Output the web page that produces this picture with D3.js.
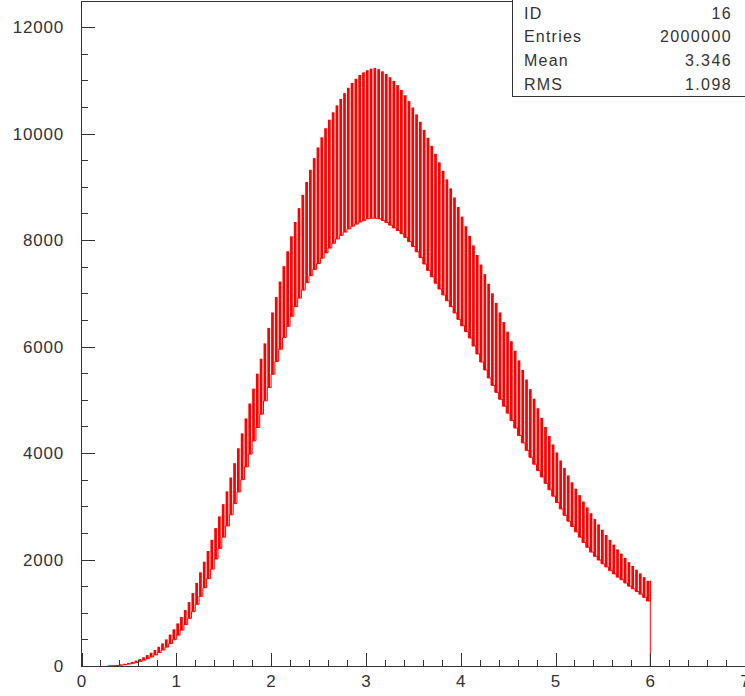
<!DOCTYPE html>
<html>
<head>
<meta charset="utf-8">
<script src="https://cdn.jsdelivr.net/npm/d3@7/dist/d3.min.js"></script>
<style>
  body { margin: 0; background: #fff; }
  svg { display: block; }
  text { font-family: "Liberation Sans", Arial, sans-serif; fill: #333; }
</style>
</head>
<body>
<div id="chart"></div>
<script>
// histogram binning (x units)
var binStart = 0.28;
var binWidth = 0.04;

// tooth tops of the comb, one per bin (entries)
var peakCounts = [
  5, 10, 18, 28, 42, 58, 78, 102, 130, 165,
  205, 250, 300, 360, 425, 500, 590, 690, 800, 920,
  1050, 1200, 1370, 1560, 1760, 1960, 2160, 2370, 2590, 2810,
  3040, 3280, 3540, 3810, 4090, 4370, 4650, 4930, 5210, 5490,
  5770, 6060, 6350, 6640, 6930, 7220, 7510, 7790, 8070, 8340,
  8600, 8850, 9090, 9320, 9540, 9740, 9930, 10100, 10260, 10400,
  10530, 10650, 10760, 10860, 10950, 11030, 11100, 11150, 11190, 11220,
  11230, 11210, 11170, 11120, 11060, 10990, 10910, 10820, 10720, 10610,
  10490, 10360, 10220, 10070, 9920, 9770, 9620, 9460, 9300, 9140,
  8970, 8800, 8620, 8440, 8260, 8080, 7900, 7720, 7540, 7360,
  7180, 7000, 6820, 6640, 6460, 6280, 6100, 5920, 5740, 5560,
  5380, 5200, 5020, 4840, 4660, 4490, 4320, 4160, 4010, 3860,
  3720, 3580, 3450, 3330, 3210, 3090, 2980, 2870, 2760, 2660,
  2560, 2460, 2370, 2280, 2190, 2110, 2030, 1950, 1880, 1810,
  1740, 1670, 1600
];

// bottom of the comb, one per bin (entries)
var baseCounts = [
  2, 5, 10, 16, 25, 36, 50, 66, 86, 110,
  138, 170, 208, 252, 300, 355, 420, 495, 580, 675,
  780, 895, 1020, 1160, 1310, 1470, 1640, 1820, 2010, 2210,
  2420, 2630, 2840, 3050, 3270, 3500, 3740, 3980, 4230, 4480,
  4730, 4980, 5230, 5480, 5720, 5950, 6170, 6380, 6570, 6750,
  6910, 7060, 7200, 7330, 7450, 7560, 7660, 7760, 7850, 7940,
  8020, 8090, 8150, 8210, 8260, 8300, 8340, 8370, 8400, 8410,
  8410, 8400, 8370, 8330, 8280, 8230, 8180, 8120, 8050, 7970,
  7880, 7780, 7670, 7550, 7430, 7310, 7190, 7080, 6970, 6860,
  6750, 6630, 6510, 6390, 6280, 6160, 6010, 5860, 5710, 5560,
  5410, 5270, 5140, 5010, 4880, 4750, 4610, 4470, 4330, 4190,
  4050, 3920, 3790, 3670, 3550, 3430, 3310, 3190, 3070, 2950,
  2830, 2720, 2620, 2520, 2420, 2320, 2230, 2140, 2060, 1990,
  1920, 1860, 1790, 1730, 1670, 1620, 1560, 1500, 1450, 1400,
  1350, 1290, 1220
];

var xTickValues = [0, 1, 2, 3, 4, 5, 6, 7];
var yTickValues = [0, 2000, 4000, 6000, 8000, 10000, 12000];

var statLabels = ["ID", "Entries", "Mean", "RMS"];
var statValues = ["16", "2000000", "3.346", "1.098"];

var W = 745, H = 696;
var axisColor = "#333";

var svg = d3.select("#chart").append("svg")
            .attr("width", W)
            .attr("height", H);

var x = d3.scaleLinear().domain([0, 7]).range([81.5, 745.1]);
var y = d3.scaleLinear().domain([0, 12490]).range([666, 1]);

var bins = peakCounts.map(function(p, i){
  return {x0: binStart + i * binWidth, x1: binStart + (i + 1) * binWidth, hi: p, lo: baseCounts[i]};
});

// frame top line
svg.append("line")
   .attr("x1", x(0)).attr("x2", W)
   .attr("y1", 1.5).attr("y2", 1.5)
   .attr("stroke", axisColor);

// comb teeth
svg.append("g").selectAll("rect")
   .data(bins)
   .enter()
   .append("rect")
   .attr("x", function(d){ return x(d.x0); })
   .attr("width", function(d){ return x(d.x0 + binWidth * 0.72) - x(d.x0); })
   .attr("y", function(d){ return y(d.hi); })
   .attr("height", function(d){ return y(d.lo) - y(d.hi); })
   .style("fill", "#ff0000");

// lower step line
var pathData = "M" + x(binStart) + "," + y(0);
bins.forEach(function(d){
  pathData += "L" + x(d.x0) + "," + y(d.lo) + "L" + x(d.x1) + "," + y(d.lo);
});
var last = bins[bins.length - 1];
pathData += "L" + x(last.x1) + "," + y(last.hi) + "L" + x(last.x1) + "," + y(0);

svg.append("path")
   .attr("d", pathData)
   .attr("fill", "none")
   .attr("stroke", "#ff0000")
   .attr("stroke-width", 1);

// x axis
var xAxisG = svg.append("g");
xAxisG.append("line")
      .attr("x1", x(0)).attr("x2", W)
      .attr("y1", 666.5).attr("y2", 666.5)
      .attr("stroke", axisColor);
xAxisG.selectAll("line.minor")
      .data(d3.range(0, 35).map(function(i){ return i * 0.2; }))
      .enter().append("line")
      .attr("class", "minor")
      .attr("x1", function(d){ return Math.round(x(d)) + 0.5; })
      .attr("x2", function(d){ return Math.round(x(d)) + 0.5; })
      .attr("y1", 666).attr("y2", 660)
      .attr("stroke", axisColor);
xAxisG.selectAll("line.major")
      .data(xTickValues)
      .enter().append("line")
      .attr("class", "major")
      .attr("x1", function(d){ return Math.round(x(d)) + 0.5; })
      .attr("x2", function(d){ return Math.round(x(d)) + 0.5; })
      .attr("y1", 666).attr("y2", 653)
      .attr("stroke", axisColor);
xAxisG.selectAll("text")
      .data(xTickValues)
      .enter().append("text")
      .attr("x", function(d){ return x(d); })
      .attr("y", 686.5)
      .attr("text-anchor", "middle")
      .style("font-size", "17px")
      .text(function(d){ return d; });

// y axis
var yAxisG = svg.append("g");
yAxisG.append("line")
      .attr("x1", 81.5).attr("x2", 81.5)
      .attr("y1", 1).attr("y2", 667)
      .attr("stroke", axisColor);
yAxisG.selectAll("line.minor")
      .data(d3.range(0, 25).map(function(i){ return i * 500; }))
      .enter().append("line")
      .attr("class", "minor")
      .attr("x1", 81.5).attr("x2", 88)
      .attr("y1", function(d){ return Math.round(y(d)) + 0.5; })
      .attr("y2", function(d){ return Math.round(y(d)) + 0.5; })
      .attr("stroke", axisColor);
yAxisG.selectAll("line.major")
      .data(yTickValues)
      .enter().append("line")
      .attr("class", "major")
      .attr("x1", 81.5).attr("x2", 95)
      .attr("y1", function(d){ return Math.round(y(d)) + 0.5; })
      .attr("y2", function(d){ return Math.round(y(d)) + 0.5; })
      .attr("stroke", axisColor);
yAxisG.selectAll("text")
      .data(yTickValues)
      .enter().append("text")
      .attr("x", 64)
      .attr("y", function(d){ return y(d) + 6; })
      .attr("text-anchor", "end")
      .style("font-size", "17px")
      .style("letter-spacing", "0.8px")
      .text(function(d){ return d; });

// stats box
var stats = svg.append("g");
stats.append("rect")
     .attr("x", 512.5).attr("y", -1)
     .attr("width", 260).attr("height", 97.5)
     .attr("fill", "#fff")
     .attr("stroke", axisColor);
stats.selectAll("text.lab")
     .data(statLabels)
     .enter().append("text")
     .attr("class", "lab")
     .attr("x", 524)
     .attr("y", function(d, i){ return 18.5 + i * 23.9; })
     .style("font-size", "16px")
     .style("letter-spacing", "1.2px")
     .text(function(d){ return d; });
stats.selectAll("text.val")
     .data(statValues)
     .enter().append("text")
     .attr("class", "val")
     .attr("x", 732)
     .attr("y", function(d, i){ return 18.5 + i * 23.9; })
     .attr("text-anchor", "end")
     .style("font-size", "16px")
     .style("letter-spacing", "1.4px")
     .text(function(d){ return d; });
</script>
</body>
</html>
